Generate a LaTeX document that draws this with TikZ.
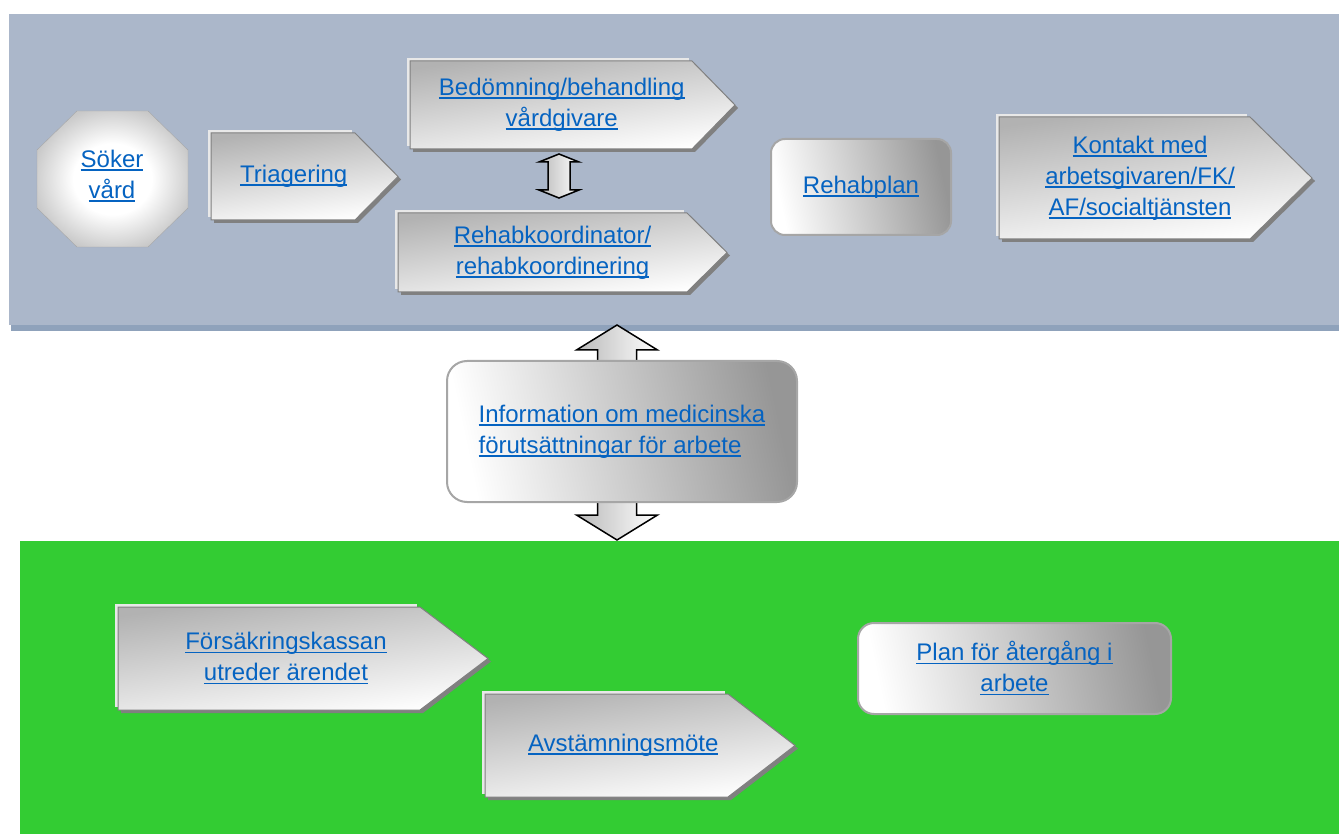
\documentclass[tikz,border=0pt]{standalone}
\usepackage{fontspec}
\setmainfont{Liberation Sans}
\usepackage{tikz}
\usetikzlibrary{
  calc
}
\usepackage{xcolor}
\definecolor{careBlue}{RGB}{171,183,202}
\definecolor{panelEdge}{RGB}{143,162,187}
\definecolor{fkGreen}{RGB}{51,204,51}
\definecolor{linkBlue}{RGB}{5,99,193}
\definecolor{shadowGray}{RGB}{128,128,128}
\definecolor{edgeLight}{RGB}{232,232,232}
\definecolor{boxDark}{RGB}{178,178,178}
\definecolor{boxEdge}{RGB}{166,166,166}
\definecolor{planGray}{RGB}{150,150,150}
\definecolor{octGray}{RGB}{200,200,200}
\pgfdeclareradialshading{octShading}{\pgfpoint{0bp}{0bp}}{%
  color(0bp)=(white); color(13bp)=(white); color(27bp)=(octGray);
  color(50bp)=(octGray)}
\newsavebox{\lnkBox}
\newcommand{\lnk}[1]{\sbox{\lnkBox}{#1}%
  \rlap{\rule[-3.4pt]{\wd\lnkBox}{1.8pt}}\usebox{\lnkBox}}
\newcommand{\linkFont}{\fontsize{24}{31}\selectfont}
\newcommand{\stepNode}[7]{%
  \fill[shadowGray, shift={(3pt,-3pt)}]
    (#2,#3) -- (#4,#3) -- (#5,{(#3+#6)/2}) -- (#4,#6) -- (#2,#6) -- cycle;
  \fill[edgeLight, shift={(-3pt,3pt)}] (#2,#3) rectangle (#4,#6);
  \shadedraw[stepShade]
    (#2,#3) -- (#4,#3) -- (#5,{(#3+#6)/2}) -- (#4,#6) -- (#2,#6) -- cycle;
  \node[linkText] (#1) at ({(2*#2+#4+#5)/4},{(#3+#6)/2}) {#7};}
\newcommand{\twoWay}[6]{%
  \shadedraw[arrowShade]
    (#1,#2) -- ({#1+#4},{#2+#6}) -- ({#1+#5},{#2+#6})
    -- ({#1+#5},{#3-#6}) -- ({#1+#4},{#3-#6}) -- (#1,#3)
    -- ({#1-#4},{#3-#6}) -- ({#1-#5},{#3-#6})
    -- ({#1-#5},{#2+#6}) -- ({#1-#4},{#2+#6}) -- cycle;}
\tikzset{
  linkText/.style={
    font=\linkFont,
    text=linkBlue,
    align=center,
    inner sep=0pt
  }
}
\tikzset{
  stepShade/.style={
    top color=boxDark,
    bottom color=white,
    shading angle=8,
    draw=shadowGray,
    line width=1pt
  }
}
\tikzset{
  planBox/.style={
    linkText,
    top color=planGray,
    bottom color=white,
    shading angle=-78,
    draw=boxEdge,
    line width=2pt
  }
}
\tikzset{
  arrowShade/.style={
    left color=gray!55,
    right color=white,
    draw=black,
    line width=1.5pt,
    line join=miter
  }
}

\begin{document}
\begin{tikzpicture}[x=1pt, y=-1pt]
    \useasboundingbox (0,0) rectangle (1339,834);
    \fill[panelEdge] (11,320) rectangle (1339,331);
    \fill[careBlue] (9,14) rectangle (1339,325);
    \fill[fkGreen] (20,541) rectangle (1339,834);

    \twoWay{617}{325}{540}{40.5}{19.5}{25}

    \shadedraw[shading=octShading, draw=boxEdge]
      (77,111) -- (148,111) -- (188,150) -- (188,208)
      -- (148,247) -- (77,247) -- (37,208) -- (37,150) -- cycle;
    \node[linkText] (soker) at (112,176) {\lnk{Söker}\\\lnk{vård}};

    \stepNode{triage}{211}{133}{355}{398}{220}{\lnk{Triagering}}
    \stepNode{bedom}{410}{61}{692}{735}{149}%
      {\lnk{Bedömning/behandling}\\\lnk{vårdgivare}}
    \stepNode{koord}{398}{213}{687}{727}{292}%
      {\lnk{Rehabkoordinator/}\\\lnk{rehabkoordinering}}
    \twoWay{559}{154}{198}{20}{11}{8}

    \node[planBox, minimum width=180, minimum height=96, rounded corners=14]
      (rehabplan) at (861,187) {\lnk{Rehabplan}};
    \stepNode{kontakt}{999}{117}{1250}{1312}{239}%
      {\lnk{Kontakt med}\\\lnk{arbetsgivaren/FK/}\\\lnk{AF/socialtjänsten}}

    \node[planBox, align=left, minimum width=350, minimum height=141,
      rounded corners=20] (info) at (622,431.5)
      {\lnk{Information om medicinska}\\\lnk{förutsättningar för arbete}};

    \stepNode{fk}{118}{607}{420}{488}{710}%
      {\lnk{Försäkringskassan}\\\lnk{utreder ärendet}}
    \stepNode{avst}{485}{694}{728}{795}{797}{\lnk{Avstämningsmöte}}
    \node[planBox, minimum width=313, minimum height=91, rounded corners=16]
      (plan) at (1014.5,668.5) {\lnk{Plan för återgång i}\\\lnk{arbete}};
\end{tikzpicture}
\end{document}
